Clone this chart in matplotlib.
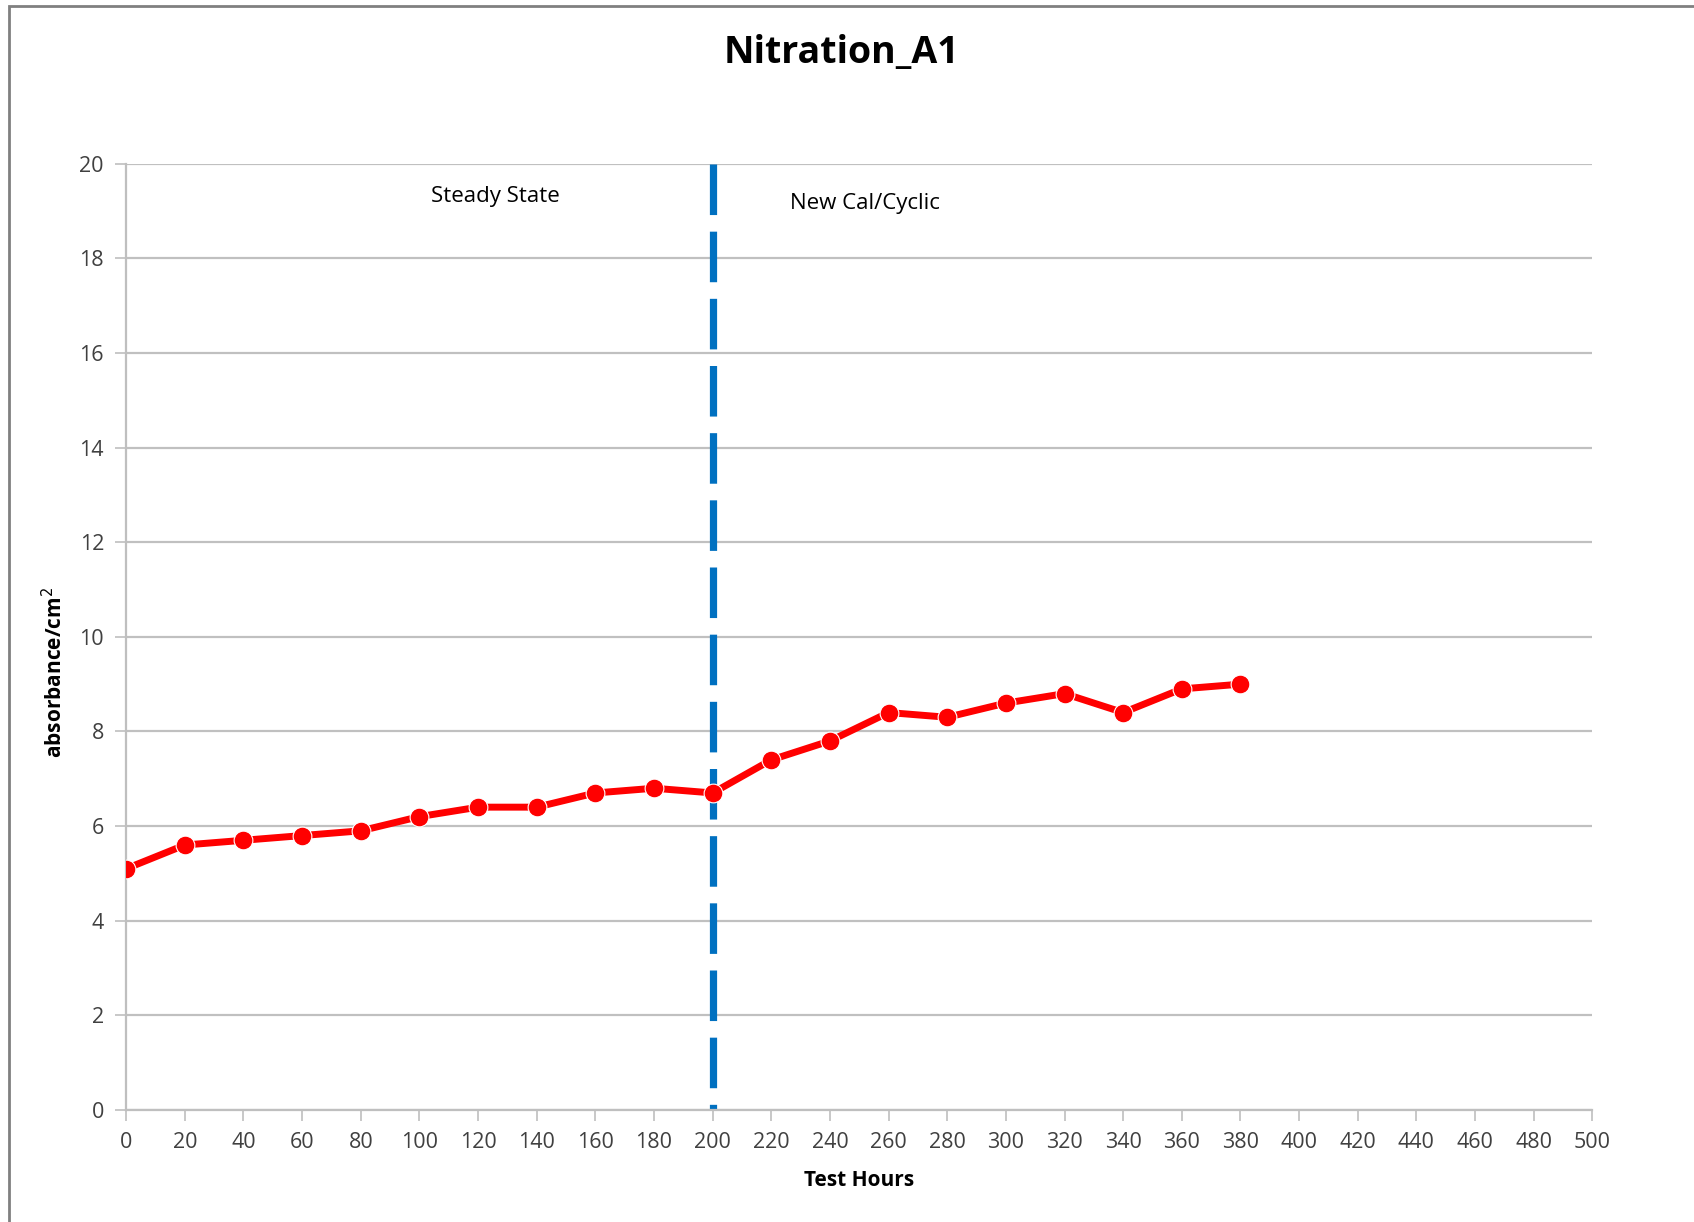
import matplotlib
matplotlib.use("Agg")
import matplotlib.pyplot as plt
from matplotlib.patches import Rectangle

# data
hours = [0, 20, 40, 60, 80, 100, 120, 140, 160, 180, 200,
         220, 240, 260, 280, 300, 320, 340, 360, 380]
absorbance = [5.1, 5.6, 5.7, 5.8, 5.9, 6.2, 6.4, 6.4, 6.7, 6.8, 6.7,
              7.4, 7.8, 8.4, 8.3, 8.6, 8.8, 8.4, 8.9, 9.0]
x_ticks = list(range(0, 501, 20))
y_ticks = list(range(0, 21, 2))
change_hour = 200

plt.rcParams['font.family'] = ['Open Sans', 'DejaVu Sans']

fig = plt.figure(figsize=(16.94, 12.22), dpi=100)
ax = fig.add_axes([0.0745, 0.0917, 0.8655, 0.7743])

# grey frame around the chart area
fig.patches.append(Rectangle((9 / 1694, -0.05), 1.1, 1.05 - 6 / 1222,
                             transform=fig.transFigure, fill=False,
                             edgecolor='#808080', linewidth=2))

ax.grid(axis='y', color='#c0c0c0', linewidth=1.6)
ax.set_axisbelow(True)

# drawn top-down so the dash pattern starts at the top like the original
ax.plot([change_hour, change_hour], [20, 0], color='#0070c0', linewidth=5.2,
        dashes=(7.0, 2.3), zorder=2)

ax.plot(hours, absorbance, color='#ff0000', linewidth=5, marker='o',
        markersize=13.5, markerfacecolor='#ff0000', markeredgecolor='white',
        markeredgewidth=0.8, zorder=3)

ax.text(126, 19.3, 'Steady State', ha='center', va='center', fontsize=16)
ax.text(252, 19.15, 'New Cal/Cyclic', ha='center', va='center', fontsize=16)

ax.set_xlim(0, 500)
ax.set_ylim(0, 20)
ax.set_xticks(x_ticks)
ax.set_yticks(y_ticks)
ax.tick_params(axis='both', labelsize=15.5, labelcolor='#404040',
               color='#bfbfbf', length=8, width=1.2, pad=8)

for side in ['top', 'right']:
    ax.spines[side].set_visible(False)
for side in ['left', 'bottom']:
    ax.spines[side].set_color('#bfbfbf')
    ax.spines[side].set_linewidth(1.6)

ax.set_xlabel('Test Hours', fontsize=15, fontweight='bold', labelpad=12)
ax.set_ylabel('absorbance/cm$^2$', fontsize=15, fontweight='bold')
ax.yaxis.set_label_coords(-0.040, 0.462)
fig.text(0.497, 0.957, 'Nitration_A1', ha='center', va='center',
         fontsize=27, fontweight='bold')

fig.savefig('out.png', dpi=100)
